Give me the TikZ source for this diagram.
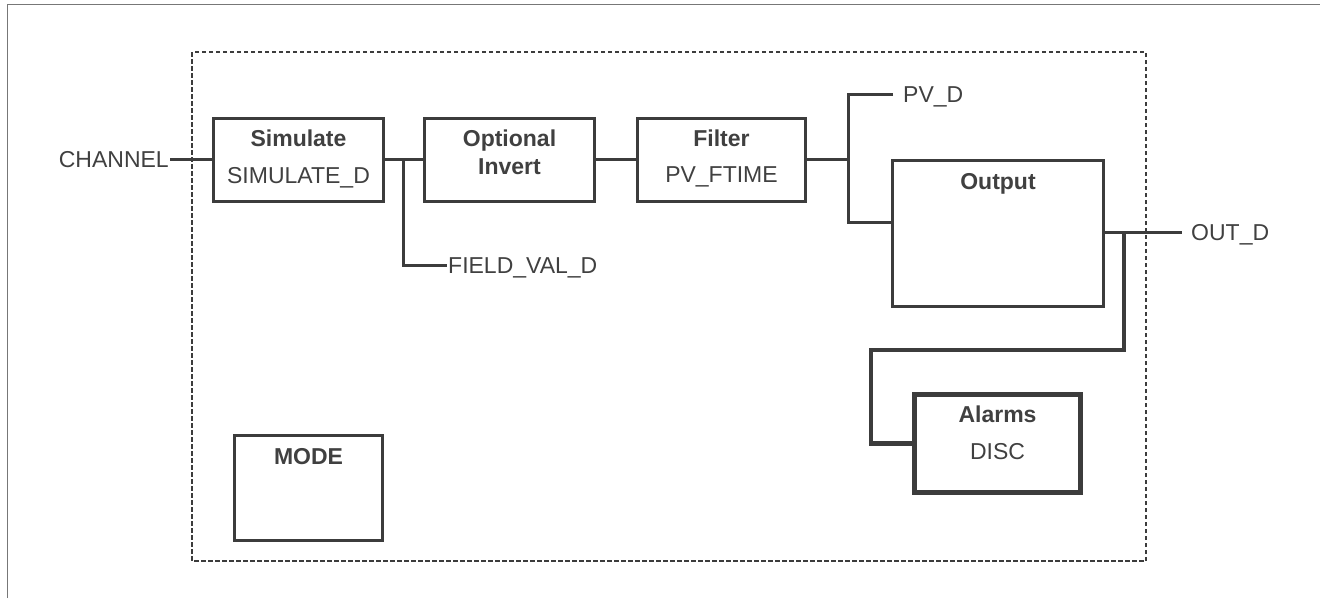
\documentclass[tikz,border=0pt]{standalone}
\usepackage{fontspec}
\setmainfont{Liberation Sans}
\usetikzlibrary{positioning}
\definecolor{ink}{HTML}{3C3C3C}
\definecolor{inktxt}{HTML}{404040}
\definecolor{frm}{HTML}{777777}

\begin{document}
\begin{tikzpicture}[x=1pt,y=-1pt,
  blk/.style={draw=ink,line width=3pt,inner sep=0pt,fill=white},
  lbl/.style={anchor=base,yshift=-#1,inner sep=0pt,text=inktxt,font=\fontsize{23}{27}\selectfont},
  ttl/.style={lbl=#1,font=\fontsize{23}{27}\selectfont\bfseries},
  ttl/.default=30pt,
  sig/.style={inner sep=1pt,text height=16.5pt,text depth=0pt,text=inktxt,font=\fontsize{23}{27}\selectfont},
  wire/.style={draw=ink,line width=3pt}]
\useasboundingbox (0,0) rectangle (1320,598);
% page frame and block boundary
\draw[frm,line width=1.5pt] (7.5,598) -- (7.5,4.5) -- (1320,4.5);
\draw[ink,line width=2.8pt,dash pattern=on 4.5pt off 2.5pt] (192,52) rectangle (1146,561);
% blocks
\node[blk,minimum width=170pt,minimum height=83pt,label={[ttl]north:Simulate},label={[lbl=67pt]north:SIMULATE\_D}] (sim) at (298.5,159.5) {};
\node[blk,minimum width=170pt,minimum height=83pt,right=38pt of sim,label={[ttl]north:Optional},label={[ttl=58pt]north:Invert}] (opt) {};
\node[blk,minimum width=168pt,minimum height=83pt,right=40pt of opt,label={[ttl]north:Filter},label={[lbl=66pt]north:PV\_FTIME}] (filt) {};
\node[blk,minimum width=211pt,minimum height=146pt,label={[ttl]north:Output}] (out) at (998,233.5) {};
\node[blk,line width=4.5pt,minimum width=166pt,minimum height=98pt,label={[ttl]north:Alarms},label={[lbl=67pt]north:DISC}] (alr) at (997.5,443.5) {};
\node[blk,minimum width=148pt,minimum height=105pt,label={[ttl]north:MODE}] (mode) at (308.5,488) {};
% signals
\node[sig,anchor=east] (chan) at (170,159.5) {CHANNEL};
\node[sig,anchor=west] (fval) at (447,265) {FIELD\_VAL\_D};
\node[sig,anchor=west,inner xsep=10pt] (pvd) at (893,94) {PV\_D};
\node[sig,anchor=west,inner xsep=9pt] (outd) at (1182,232) {OUT\_D};
\coordinate (fvb) at (403,159.5);
\coordinate (pvb) at (848,159.5);
\coordinate (ab) at (1124,232);
\coordinate (alt) at (871,350);
\draw[wire] (chan.east) -- (sim.west);
\draw[wire] (sim.east) -- (opt.west);
\draw[wire] (fvb) |- (fval.west);
\draw[wire] (opt.east) -- (filt.west);
\draw[wire] (filt.east) -- (pvb);
\draw[wire] (pvd.west) -| (pvb) |- ([yshift=11.5pt]out.west);
\draw[wire] (out.east |- outd) -- (outd.west);
\draw[wire,line width=4.5pt] (ab) |- (alt) |- (alr.west);
\end{tikzpicture}
\end{document}
